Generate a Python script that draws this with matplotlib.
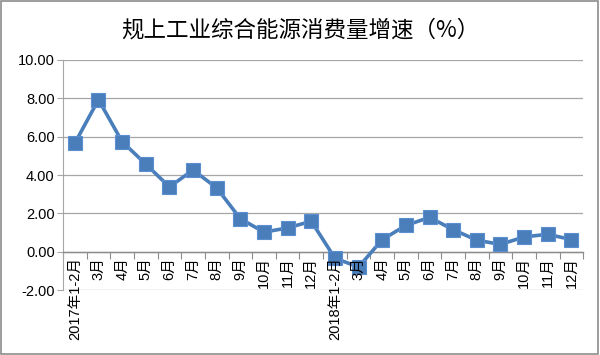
import matplotlib.pyplot as plt
from matplotlib.patches import Rectangle

plt.rcParams["font.family"] = ["Liberation Sans", "Noto Sans CJK SC", "DejaVu Sans"]

TITLE = "规上工业综合能源消费量增速（%）"

months = [
    "2017年1-2月", "3月", "4月", "5月", "6月", "7月", "8月", "9月", "10月", "11月", "12月",
    "2018年1-2月", "3月", "4月", "5月", "6月", "7月", "8月", "9月", "10月", "11月", "12月",
]
growth = [
    5.66, 7.93, 5.74, 4.57, 3.38, 4.26, 3.33, 1.72, 1.02, 1.24, 1.59,
    -0.34, -0.80, 0.63, 1.37, 1.79, 1.15, 0.60, 0.38, 0.77, 0.91, 0.63,
]
y_ticks = [-2, 0, 2, 4, 6, 8, 10]

line_color = "#4a7ebb"
grid_color = "#a6a6a6"

fig = plt.figure(figsize=(6.0, 3.55), dpi=100)
fig.patches.append(
    Rectangle((0.002, 0.003), 0.995, 0.994, transform=fig.transFigure,
              fill=False, edgecolor="#8c8c8c", linewidth=1.2)
)
ax = fig.add_axes([0.105, 0.183, 0.867, 0.648])

x = list(range(len(months)))
ax.plot(x, growth, color=line_color, linewidth=2.6, marker="s",
        markersize=9.5, markerfacecolor=line_color, markeredgecolor="#5b8fd0",
        markeredgewidth=0.8, zorder=3)

ax.set_xlim(-0.5, len(months) - 0.5)
ax.set_ylim(-2, 10)
ax.set_yticks(y_ticks)
ax.set_yticklabels([f"{v:.2f}" for v in y_ticks], fontsize=10.5)
ax.yaxis.grid(True, color=grid_color, linewidth=0.9)
ax.set_axisbelow(True)

for side in ["top", "right"]:
    ax.spines[side].set_visible(False)
ax.spines["left"].set_color(grid_color)
ax.spines["bottom"].set_position(("data", 0))
ax.spines["bottom"].set_color("#8c8c8c")
ax.spines["bottom"].set_linewidth(1.0)

ax.set_xticks([i + 0.5 for i in range(-1, len(months))])
ax.set_xticklabels([])
ax.tick_params(axis="x", direction="out", length=5, color="#8c8c8c")
ax.tick_params(axis="y", direction="out", length=4, color=grid_color, pad=2)

for i, label in enumerate(months):
    ax.text(i, -0.3, label, rotation=90, ha="center", va="top", fontsize=10.5)

fig.text(0.5, 0.915, TITLE, ha="center", va="center", fontsize=16.2,
         weight="medium", family=["Noto Sans CJK SC", "DejaVu Sans"])

fig.savefig("out.png", dpi=100)
